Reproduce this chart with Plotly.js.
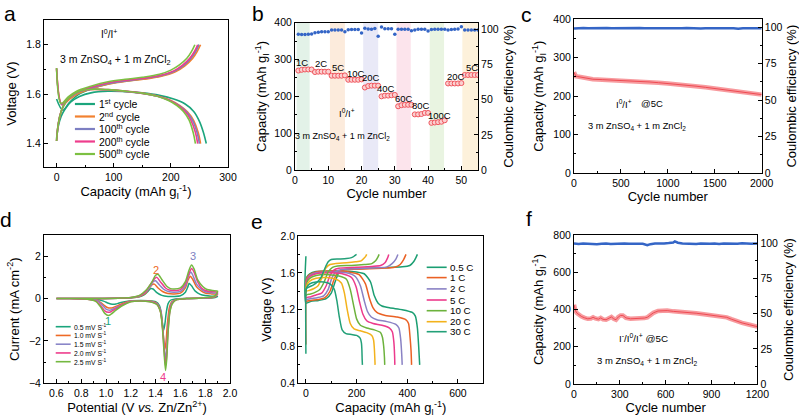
<!DOCTYPE html>
<html><head><meta charset="utf-8">
<script src="https://cdn.plot.ly/plotly-3.0.1.min.js"></script>
<style>html,body{margin:0;padding:0;background:#fff}#plot{width:799px;height:420px}</style>
</head><body><div id="plot"></div>
<script>
// ---------------- DATA ----------------
// Panel a: GCD curves of selected cycles (capacity mAh g-1, voltage V)
const aCycles = ['1<sup>st</sup> cycle','2<sup>nd</sup> cycle','100<sup>th</sup> cycle','200<sup>th</sup> cycle','500<sup>th</sup> cycle'];
const aChgX = [
  [0,11,22,38,62,92,122,152,182,206,222,235,243,249],
  [0,10,22,38,62,92,122,152,182,208,224,238,246,252],
  [0,9,20,35,60,90,120,150,180,206,222,235,243,249],
  [0,9,20,35,60,90,120,150,180,205,220,233,241,247],
  [0,8,20,35,60,90,120,150,180,200,215,228,236,242]];
const aChgY = [
  [1.58,1.535,1.565,1.598,1.622,1.642,1.653,1.662,1.673,1.692,1.714,1.745,1.772,1.80],
  [1.704,1.556,1.578,1.602,1.623,1.641,1.652,1.660,1.671,1.690,1.713,1.744,1.772,1.80],
  [1.704,1.558,1.580,1.604,1.625,1.643,1.653,1.662,1.673,1.692,1.715,1.745,1.772,1.80],
  [1.705,1.560,1.583,1.607,1.628,1.646,1.656,1.664,1.675,1.694,1.716,1.745,1.772,1.80],
  [1.706,1.562,1.588,1.612,1.632,1.650,1.660,1.668,1.680,1.697,1.718,1.745,1.772,1.80]];
const aDisX = [
  [0,3,8,15,25,40,60,90,120,150,180,205,225,240,250,257,262],
  [0,3,8,15,25,40,60,90,120,150,178,200,216,229,240,248,252],
  [0,3,8,15,25,40,60,90,120,150,177,198,214,227,238,246,250],
  [0,3,8,15,25,40,60,90,120,150,176,197,212,225,235,243,247],
  [0,3,8,15,25,40,60,90,120,150,175,195,210,222,232,239,243]];
const aDisY = [
  [1.42,1.47,1.51,1.54,1.568,1.59,1.605,1.612,1.61,1.605,1.595,1.580,1.560,1.530,1.490,1.445,1.40],
  [1.41,1.48,1.53,1.563,1.590,1.610,1.618,1.617,1.611,1.603,1.591,1.574,1.553,1.528,1.493,1.444,1.40],
  [1.41,1.48,1.53,1.564,1.591,1.611,1.619,1.617,1.611,1.603,1.591,1.574,1.554,1.529,1.494,1.444,1.40],
  [1.41,1.48,1.53,1.565,1.592,1.612,1.620,1.618,1.612,1.604,1.592,1.575,1.555,1.530,1.495,1.445,1.40],
  [1.41,1.48,1.53,1.565,1.592,1.612,1.620,1.618,1.612,1.604,1.592,1.575,1.555,1.530,1.495,1.445,1.40]];

// Panel b: rate performance
const bCycle = Array.from({length:55},(_,i)=>i+1);
const bCap = [270,272,273,273,273, 266,267,267,267,267, 256,256,256,256,257, 245,245,245,245,246,
  224,228,229,229,229, 200,202,202,203,204, 173,176,177,177,177, 151,151,152,155,155,
  128,129,130,131,135, 235,235,235,235,236, 258,258,258,258,258];
const bCE = [96.5,96.3,96.4,96.5,96.6, 97.6,98.0,98.2,98.3,98.3, 99.5,99.5,99.6,99.6,98.2,
  99.7,99.8,99.8,99.8,97.3, 100.8,100.2,100.0,100.5,95.0, 101.7,100.4,100.4,100.4,96.5,
  100.0,100.0,100.0,100.0,99.0, 99.6,100.0,100.0,100.0,98.8, 99.8,100.0,100.0,100.0,100.0,
  99.5,99.8,100.0,100.2,101.8, 99.5,99.5,99.5,99.5,99.5];
const bRates = ['1C','2C','5C','10C','20C','40C','60C','80C','100C','20C','5C'];
const bRateX = [2.1,7.8,12.9,18.3,22.8,27.3,32.7,37.8,43.5,48.3,53.1];
const bRateY = [291,288,277,263,250,220,193,174,147,255,277];
const bBandX0 = [0.5,10.5,20.5,30.5,40.5,50.3];
const bBandX1 = [4.4,15.0,25.0,34.8,44.8,55.0];
const bBandColors = ['rgba(200,230,210,0.5)','rgba(250,215,185,0.5)','rgba(215,215,240,0.55)','rgba(250,205,220,0.55)','rgba(215,235,200,0.55)','rgba(252,232,195,0.6)'];

// Panel c: long cycling at 5C
const cCycle = [0,10,20,40,60,80,100,120,150,200,300,400,500,600,700,800,900,1000,1100,1200,1300,1400,1500,1600,1700,1800,1900,2000];
const cCap = [262,255,252,251,250,250,249,247,245,244,243,242,241,240,238,237,235,233,231,228,226,223,220,217,214,211,207,204];
const cCECycle = [0,50,100,150,200,250,300,350,400,450,500,550,600,650,700,750,800,850,900,950,1000,1050,1100,1150,1200,1250,1300,1350,1400,1450,1500,1550,1600,1650,1700,1750,1800,1850,1900,1950,2000];
const cCE = [99.1,99.4,99.6,99.3,99.5,99.3,99.4,99.6,99.3,99.4,99.2,99.5,99.4,99.3,99.5,99.3,99.4,99.2,99.5,99.3,99.4,99.3,99.1,99.4,99.6,99.3,99.4,99.2,99.4,99.3,99.5,99.3,99.1,99.3,99.4,99.0,99.3,99.4,99.5,99.3,99.4];

// Panel d: CV curves at different scan rates (V, mA cm-2)
const dRates = ['0.5 mV S<sup>-1</sup>','1.0 mV S<sup>-1</sup>','1.5 mV S<sup>-1</sup>','2.0 mV S<sup>-1</sup>','2.5 mV S<sup>-1</sup>'];
const dX = [
  [0.60,0.90,1.10,1.20,1.27,1.31,1.34,1.36,1.38,1.41,1.45,1.50,1.55,1.60,1.64,1.66,1.67,1.69,1.72,1.76,1.80,1.85,1.90, 1.88,1.85,1.75,1.65,1.56,1.52,1.50,1.485,1.475,1.465,1.455,1.445,1.43,1.40,1.35,1.28,1.20,1.14,1.10,1.08,1.05,1.02,0.98,0.93,0.85,0.70,0.60],
  [0.60,0.90,1.10,1.20,1.27,1.32,1.35,1.37,1.39,1.42,1.46,1.50,1.55,1.60,1.64,1.66,1.68,1.70,1.73,1.77,1.80,1.85,1.90, 1.88,1.85,1.75,1.65,1.57,1.53,1.51,1.495,1.485,1.475,1.465,1.45,1.435,1.41,1.35,1.28,1.20,1.14,1.10,1.06,1.04,1.01,0.97,0.93,0.85,0.70,0.60],
  [0.60,0.90,1.10,1.20,1.27,1.32,1.36,1.38,1.40,1.43,1.47,1.51,1.55,1.60,1.64,1.665,1.685,1.70,1.73,1.77,1.80,1.85,1.90, 1.88,1.85,1.75,1.65,1.57,1.53,1.515,1.50,1.49,1.48,1.47,1.455,1.44,1.41,1.35,1.28,1.20,1.14,1.09,1.05,1.03,1.00,0.97,0.93,0.85,0.70,0.60],
  [0.60,0.90,1.10,1.20,1.27,1.32,1.36,1.39,1.41,1.44,1.48,1.51,1.55,1.60,1.64,1.67,1.69,1.71,1.74,1.77,1.80,1.85,1.90, 1.88,1.85,1.75,1.65,1.57,1.535,1.515,1.50,1.49,1.48,1.47,1.455,1.44,1.41,1.35,1.28,1.20,1.13,1.08,1.04,1.02,0.99,0.96,0.92,0.85,0.70,0.60],
  [0.60,0.90,1.10,1.20,1.27,1.32,1.37,1.40,1.42,1.45,1.49,1.52,1.55,1.60,1.64,1.67,1.69,1.71,1.74,1.78,1.81,1.86,1.90, 1.88,1.85,1.75,1.65,1.57,1.535,1.515,1.50,1.49,1.48,1.47,1.455,1.44,1.41,1.35,1.28,1.20,1.13,1.08,1.04,1.02,0.99,0.96,0.92,0.85,0.70,0.60]];
const dY = [
  [0,0,0.01,0.03,0.08,0.18,0.35,0.47,0.45,0.28,0.15,0.10,0.10,0.13,0.30,0.55,0.72,0.60,0.35,0.20,0.14,0.11,0.10, 0.05,0.03,0.01,0,-0.02,-0.08,-0.25,-0.70,-1.20,-1.50,-1.15,-0.65,-0.32,-0.15,-0.10,-0.09,-0.10,-0.16,-0.22,-0.26,-0.27,-0.22,-0.12,-0.04,-0.01,0,0],
  [0,0,0.01,0.04,0.10,0.25,0.50,0.65,0.68,0.50,0.32,0.24,0.22,0.26,0.50,0.85,1.05,0.90,0.55,0.35,0.26,0.22,0.20, 0.08,0.04,0.01,0,-0.04,-0.15,-0.45,-1.20,-2.00,-2.40,-1.90,-1.00,-0.50,-0.22,-0.12,-0.10,-0.12,-0.22,-0.32,-0.42,-0.45,-0.42,-0.25,-0.08,-0.02,0,0],
  [0,0,0.01,0.04,0.12,0.30,0.60,0.80,0.84,0.65,0.42,0.32,0.30,0.34,0.60,1.05,1.25,1.10,0.68,0.43,0.32,0.27,0.25, 0.10,0.05,0.01,0,-0.05,-0.20,-0.55,-1.40,-2.40,-2.90,-2.30,-1.20,-0.55,-0.24,-0.13,-0.10,-0.13,-0.26,-0.40,-0.52,-0.55,-0.50,-0.30,-0.10,-0.02,0,0],
  [0,0,0.01,0.05,0.14,0.34,0.68,0.92,1.00,0.78,0.50,0.40,0.38,0.42,0.70,1.20,1.42,1.25,0.78,0.50,0.38,0.32,0.30, 0.12,0.06,0.02,0,-0.05,-0.22,-0.60,-1.55,-2.65,-3.20,-2.50,-1.30,-0.60,-0.26,-0.14,-0.11,-0.14,-0.30,-0.48,-0.62,-0.65,-0.58,-0.35,-0.12,-0.03,0,0],
  [0,0,0.02,0.05,0.15,0.38,0.78,1.10,1.15,0.90,0.58,0.47,0.45,0.50,0.80,1.35,1.58,1.40,0.88,0.57,0.44,0.38,0.35, 0.14,0.07,0.02,0,-0.05,-0.24,-0.65,-1.65,-2.85,-3.40,-2.70,-1.40,-0.65,-0.28,-0.15,-0.12,-0.15,-0.34,-0.55,-0.74,-0.80,-0.70,-0.42,-0.14,-0.03,0,0]];
const dPeakLabels = ['1','2','3','4'];
const dPeakX = [1.015,1.405,1.70,1.46];
const dPeakY = [-1.05,1.37,2.0,-3.69];

// Panel e: GCD curves at different C-rates
const eRates = ['0.5 C','1 C','2 C','5 C','10 C','20 C','30 C'];
const eChgX = [
  [0,0,20,50,80,100,115,130,150,200,300,380,410,425,435,440],
  [0,2,20,50,75,95,110,125,145,200,300,350,372,385,395],
  [0,2,20,45,70,88,102,118,140,200,280,320,340,355,363],
  [0,2,20,40,62,80,95,110,130,200,260,295,312,322,327],
  [0,2,18,38,55,72,88,105,125,180,230,260,275,284,289],
  [0,2,15,32,48,62,78,95,115,160,195,218,230,237,240],
  [0,2,15,30,45,60,75,88,100,130,160,180,190,197,200]];
const eChgY = [
  [1.78,1.27,1.29,1.30,1.32,1.38,1.50,1.60,1.635,1.645,1.655,1.665,1.68,1.72,1.77,1.80],
  [1.28,1.29,1.30,1.31,1.33,1.40,1.52,1.60,1.63,1.64,1.65,1.66,1.69,1.74,1.80],
  [1.30,1.31,1.32,1.33,1.35,1.42,1.54,1.61,1.635,1.645,1.655,1.665,1.70,1.75,1.80],
  [1.32,1.33,1.34,1.36,1.38,1.46,1.57,1.63,1.65,1.66,1.67,1.68,1.71,1.76,1.80],
  [1.35,1.36,1.37,1.39,1.42,1.50,1.61,1.66,1.675,1.68,1.69,1.70,1.73,1.77,1.80],
  [1.38,1.40,1.41,1.43,1.46,1.54,1.65,1.69,1.70,1.71,1.72,1.73,1.76,1.785,1.80],
  [1.40,1.43,1.45,1.47,1.50,1.55,1.65,1.72,1.745,1.75,1.755,1.765,1.78,1.795,1.80]];
const eDisX = [
  [0,3,15,40,100,180,230,255,270,285,300,330,380,420,432,440,445,449],
  [0,0,3,15,40,100,170,210,235,250,265,280,310,360,395,405,411,415,417],
  [0,3,15,40,100,160,195,215,230,243,258,280,320,355,367,374,378,380],
  [0,3,15,40,100,150,180,198,212,225,240,265,300,330,341,347,350,351],
  [0,3,15,40,90,130,160,175,188,200,215,240,270,295,302,307,310,311],
  [0,3,15,40,80,115,140,152,163,175,190,215,240,260,267,270,272,273],
  [0,0,3,15,40,70,95,112,122,132,143,158,180,200,214,219,221,222,223]];
const eDisY = [
  [1.50,1.55,1.59,1.615,1.62,1.615,1.59,1.50,1.35,1.27,1.24,1.22,1.20,1.17,1.13,1.00,0.80,0.60],
  [0.82,1.48,1.54,1.58,1.61,1.62,1.61,1.58,1.48,1.33,1.22,1.17,1.14,1.12,1.09,1.05,0.90,0.75,0.60],
  [1.46,1.52,1.57,1.60,1.61,1.60,1.56,1.46,1.30,1.18,1.12,1.09,1.07,1.04,1.00,0.88,0.72,0.60],
  [1.45,1.51,1.56,1.59,1.60,1.585,1.55,1.45,1.28,1.15,1.08,1.05,1.03,1.00,0.96,0.85,0.70,0.60],
  [1.43,1.49,1.54,1.57,1.58,1.565,1.53,1.42,1.25,1.10,1.03,1.00,0.98,0.95,0.90,0.80,0.68,0.60],
  [1.40,1.46,1.51,1.54,1.55,1.535,1.49,1.38,1.20,1.05,0.99,0.97,0.95,0.92,0.87,0.78,0.67,0.60],
  [0.72,1.38,1.44,1.48,1.50,1.50,1.48,1.42,1.30,1.12,0.98,0.94,0.93,0.92,0.89,0.84,0.76,0.66,0.60]];

// Panel f: long cycling, I-/I0/I+ at 5C
const fCycle = [0,5,10,20,35,50,70,90,110,125,140,160,175,190,210,230,245,260,275,290,305,320,340,370,400,430,460,480,500,520,550,580,610,650,700,750,800,850,900,950,1000,1030,1060,1100,1150,1200];
const fCap = [425,405,392,380,370,362,355,350,352,358,352,348,355,347,345,352,360,350,345,360,368,368,355,350,350,352,354,358,370,382,392,395,394,390,388,385,380,375,370,365,358,348,338,328,318,308];
const fCECycle = [0,30,60,90,120,150,180,210,240,270,300,330,360,390,420,450,480,500,530,560,590,620,650,660,680,710,740,770,800,830,860,890,920,950,980,1010,1040,1070,1100,1130,1160,1200];
const fCE = [99.8,99.5,99.9,99.6,99.8,99.4,99.7,99.9,99.5,99.8,99.6,99.9,99.7,99.5,99.8,99.6,98.6,99.4,99.8,99.6,99.9,100.2,100.6,101.4,100.4,99.9,99.6,99.8,99.5,99.9,99.7,99.6,99.9,99.5,99.8,99.7,99.9,99.6,100.1,99.8,99.6,99.8];

// ---------------- STYLE ----------------
const FONT = 'Arial, "Liberation Sans", sans-serif';
const W = 799, H = 420;
const aColors = ['#1ba57c','#f28130','#7d7fc2','#ee3d8c','#7cc042'];
const dColors = ['#1ba57c','#ee6a25','#8a86c8','#ee3d8c','#74b840'];
const eColors = ['#1b9e72','#ea6124','#8a82c4','#ec3a8c','#6cb23c','#f3b21c','#23a078'];
const RED = '#f0555d', BLUE = '#3465c6';
const TICKF = {family: FONT, size: 10.5, color: '#000'};
const TITF = {family: FONT, size: 13, color: '#000'};

function dx(l, r){ return [l/W, r/W]; }
function dy(t, b){ return [1-b/H, 1-t/H]; }
function axis(o){
  return Object.assign({showline:true, linecolor:'#000', linewidth:1, mirror:true,
    ticks:'inside', ticklen:4, tickwidth:1, tickcolor:'#000', showgrid:false, zeroline:false,
    tickfont:TICKF, minor:{ticks:'inside', ticklen:2, tickcolor:'#000'}}, o);
}

const traces = [];
// Panel a
for (let i=0;i<5;i++){
  traces.push({x:aChgX[i], y:aChgY[i], xaxis:'x', yaxis:'y', mode:'lines', line:{color:aColors[i], width:1.6, shape:'spline'}, showlegend:false});
  traces.push({x:aDisX[i], y:aDisY[i], xaxis:'x', yaxis:'y', mode:'lines', line:{color:aColors[i], width:1.6, shape:'spline'}, showlegend:false});
}
// Panel b
traces.push({x:bCycle, y:bCE, xaxis:'x2', yaxis:'y3', mode:'markers', marker:{color:BLUE, size:3.5}, showlegend:false});
traces.push({x:bCycle, y:bCap, xaxis:'x2', yaxis:'y2', mode:'markers', marker:{color:'#fbd0d0', size:5, line:{color:RED, width:1}}, showlegend:false});
// Panel c
traces.push({x:cCECycle, y:cCE, xaxis:'x3', yaxis:'y5', mode:'lines', line:{color:BLUE, width:2.5}, showlegend:false});
traces.push({x:cCycle, y:cCap, xaxis:'x3', yaxis:'y4', mode:'lines', line:{color:'rgba(244,120,125,0.75)', width:4.5}, showlegend:false});
traces.push({x:cCycle, y:cCap, xaxis:'x3', yaxis:'y4', mode:'lines', line:{color:'#ee4b53', width:1}, showlegend:false});
// Panel d
for (let i=0;i<5;i++){
  traces.push({x:dX[i], y:dY[i], xaxis:'x4', yaxis:'y6', mode:'lines', line:{color:dColors[i], width:1.5, shape:'spline', smoothing:0.6}, showlegend:false});
}
// Panel e
for (let i=0;i<7;i++){
  traces.push({x:eChgX[i], y:eChgY[i], xaxis:'x5', yaxis:'y7', mode:'lines', line:{color:eColors[i], width:1.5, shape:'spline', smoothing:0.6}, showlegend:false});
  traces.push({x:eDisX[i], y:eDisY[i], xaxis:'x5', yaxis:'y7', mode:'lines', line:{color:eColors[i], width:1.5, shape:'spline', smoothing:0.6}, showlegend:false});
}
// Panel f
traces.push({x:fCECycle, y:fCE, xaxis:'x6', yaxis:'y9', mode:'lines', line:{color:BLUE, width:2.5}, showlegend:false});
traces.push({x:fCycle, y:fCap, xaxis:'x6', yaxis:'y8', mode:'lines', line:{color:'rgba(244,120,125,0.75)', width:4.5}, showlegend:false});
traces.push({x:fCycle, y:fCap, xaxis:'x6', yaxis:'y8', mode:'lines', line:{color:'#ee4b53', width:1}, showlegend:false});

const capT = 'Capacity (mAh g<sub>I</sub><sup>-1</sup>)';
const ceT = 'Coulombic efficiency (%)';
const layout = {
  width:W, height:H, margin:{l:0,r:0,t:0,b:0}, paper_bgcolor:'#fff', plot_bgcolor:'rgba(0,0,0,0)',
  font:{family:FONT, color:'#000'}, showlegend:false,
  // a
  xaxis: axis({domain:dx(44,228), range:[-22,300], dtick:100, minor:{ticks:'inside',ticklen:2,dtick:50}, anchor:'y', title:{text:capT, font:TITF, standoff:4}}),
  yaxis: axis({domain:dy(20,167), range:[1.305,1.9], dtick:0.2, tickformat:'.1f', minor:{ticks:'inside',ticklen:2,dtick:0.1}, anchor:'x', title:{text:'Voltage (V)', font:TITF, standoff:6}}),
  // b
  xaxis2: axis({domain:dx(295,478), range:[0,55], dtick:10, minor:{ticks:'inside',ticklen:2,dtick:5}, anchor:'y2', title:{text:'Cycle number', font:TITF, standoff:4}}),
  yaxis2: axis({domain:dy(22.7,170), range:[0,400], dtick:100, mirror:false, minor:{ticks:'inside',ticklen:2,dtick:50}, anchor:'x2', title:{text:capT, font:TITF, standoff:4}}),
  yaxis3: axis({domain:dy(22.7,170), range:[0,104.7], tickvals:[0,25,50,75,100], mirror:false, side:'right', overlaying:'y2', anchor:'x2', minor:{ticks:'inside',ticklen:2,tickvals:[12.5,37.5,62.5,87.5]}, title:{text:ceT, font:TITF, standoff:6}}),
  // c
  xaxis3: axis({domain:dx(574,761.7), range:[0,2000], dtick:500, minor:{ticks:'inside',ticklen:2,dtick:250}, anchor:'y4', title:{text:'Cycle number', font:TITF, standoff:4}}),
  yaxis4: axis({domain:dy(19.3,173), range:[0,400], dtick:100, mirror:false, minor:{ticks:'inside',ticklen:2,dtick:50}, anchor:'x3', title:{text:capT, font:TITF, standoff:6}}),
  yaxis5: axis({domain:dy(19.3,173), range:[0,105.5], tickvals:[0,25,50,75,100], mirror:false, side:'right', overlaying:'y4', anchor:'x3', minor:{ticks:'inside',ticklen:2,tickvals:[12.5,37.5,62.5,87.5]}, title:{text:ceT, font:TITF, standoff:6}}),
  // d
  xaxis4: axis({domain:dx(44,230), range:[0.5,2.0], dtick:0.2, tickformat:'.1f', minor:{ticks:'inside',ticklen:2,dtick:0.1}, anchor:'y6', title:{text:'Potential (V <i>vs.</i> Zn/Zn<sup>2+</sup>)', font:TITF, standoff:4}}),
  yaxis6: axis({domain:dy(235,383.3), range:[-4,3], dtick:2, minor:{ticks:'inside',ticklen:2,dtick:1}, anchor:'x4', title:{text:'Current (mA cm<sup>-2</sup>)', font:TITF, standoff:6}}),
  // e
  xaxis5: axis({domain:dx(298.3,483.3), range:[-30,700], dtick:200, minor:{ticks:'inside',ticklen:2,dtick:100}, anchor:'y7', title:{text:capT, font:TITF, standoff:4}}),
  yaxis7: axis({domain:dy(236,383.3), range:[0.4,2.0], dtick:0.4, tickformat:'.1f', minor:{ticks:'inside',ticklen:2,dtick:0.2}, anchor:'x5', title:{text:'Voltage (V)', font:TITF, standoff:6}}),
  // f
  xaxis6: axis({domain:dx(574,757.3), range:[0,1200], dtick:300, minor:{ticks:'inside',ticklen:2,dtick:150}, anchor:'y8', title:{text:'Cycle number', font:TITF, standoff:4}}),
  yaxis8: axis({domain:dy(235,384), range:[0,800], dtick:200, mirror:false, minor:{ticks:'inside',ticklen:2,dtick:100}, anchor:'x6', title:{text:capT, font:TITF, standoff:6}}),
  yaxis9: axis({domain:dy(235,384), range:[0,105.9], tickvals:[0,25,50,75,100], mirror:false, side:'right', overlaying:'y8', anchor:'x6', minor:{ticks:'inside',ticklen:2,tickvals:[12.5,37.5,62.5,87.5]}, title:{text:ceT, font:TITF, standoff:6}}),
  shapes:[], annotations:[]
};

// band shading in b
for (let i=0;i<bBandX0.length;i++){
  layout.shapes.push({type:'rect', xref:'x2', yref:'y2 domain', x0:bBandX0[i], x1:bBandX1[i], y0:0, y1:1, fillcolor:bBandColors[i], line:{width:0}, layer:'below'});
}
const ann = (o)=>layout.annotations.push(Object.assign({showarrow:false, xanchor:'center', yanchor:'middle', font:{family:FONT,size:10.5,color:'#000'}}, o));
const fs = (s)=>({family:FONT, size:s, color:'#000'});
// panel letters
[['a',10,13],['b',258,13],['c',526,15],['d',6,219],['e',257,221],['f',529,218]].forEach(p=>{
  ann({text:p[0], xref:'paper', yref:'paper', x:p[1]/W, y:1-p[2]/H, font:fs(21)});
});
// panel a texts
ann({text:'I<sup>0</sup>/I<sup>+</sup>', xref:'x', yref:'y', x:91, y:1.845, font:fs(10)});
ann({text:'3 m ZnSO<sub>4</sub> + 1 m ZnCl<sub>2</sub>', xref:'x', yref:'y', x:103, y:1.74, font:fs(10.5)});
// legend a
const aLegY = [104,116.5,129,141.5,154];
for (let i=0;i<5;i++){
  const yy = (167-aLegY[i])/147;
  layout.shapes.push({type:'line', xref:'x domain', yref:'y domain', x0:0.168, x1:0.277, y0:yy, y1:yy, line:{color:aColors[i], width:2.2}});
  ann({text:aCycles[i], xref:'x domain', yref:'y domain', x:0.288, y:yy, xanchor:'left', font:fs(10.5)});
}
// panel b texts
ann({text:'I<sup>0</sup>/I<sup>+</sup>', xref:'x2', yref:'y2', x:15.6, y:155, font:fs(9.5)});
ann({text:'3 m ZnSO<sub>4</sub> + 1 m ZnCl<sub>2</sub>', xref:'x2', yref:'y2', x:14.3, y:90, font:fs(9)});
for (let i=0;i<bRates.length;i++) ann({text:bRates[i], xref:'x2', yref:'y2', x:bRateX[i], y:bRateY[i], font:fs(9.5)});
// panel c texts
ann({text:'I<sup>0</sup>/I<sup>+</sup>', xref:'x3', yref:'y4', x:533, y:180, font:fs(9.5)});
ann({text:'@5C', xref:'x3', yref:'y4', x:831, y:180, font:fs(9.5)});
ann({text:'3 m ZnSO<sub>4</sub> + 1 m ZnCl<sub>2</sub>', xref:'x3', yref:'y4', x:666, y:120, font:fs(9.3)});
// panel d peaks
for (let i=0;i<4;i++){
  const col = [dColors[0], dColors[1], '#7d7fc2', dColors[3]][i];
  ann({text:dPeakLabels[i], xref:'x4', yref:'y6', x:dPeakX[i], y:dPeakY[i], font:{family:FONT,size:11,color:col}});
}
// legend d
for (let i=0;i<5;i++){
  const yy = (383.3-(326.7+8.75*i))/148.3;
  layout.shapes.push({type:'line', xref:'x4 domain', yref:'y6 domain', x0:0.063, x1:0.1435, y0:yy, y1:yy, line:{color:dColors[i], width:1.6}});
  ann({text:dRates[i], xref:'x4 domain', yref:'y6 domain', x:0.151, y:yy, xanchor:'left', font:fs(6.8)});
}
// legend e
const eLegY = [267.3,277.6,288.9,300,310.7,321.7,331.7];
for (let i=0;i<7;i++){
  const yy = (383.3-eLegY[i])/147.3;
  layout.shapes.push({type:'line', xref:'x5 domain', yref:'y7 domain', x0:0.694, x1:0.802, y0:yy, y1:yy, line:{color:eColors[i], width:1.6}});
  ann({text:eRates[i], xref:'x5 domain', yref:'y7 domain', x:0.81, y:yy, xanchor:'left', font:fs(9.8)});
}
// panel f texts
ann({text:'I<sup>-</sup>/I<sup>0</sup>/I<sup>+</sup> @5C', xref:'x6', yref:'y8', x:452, y:249, font:fs(9.8)});
ann({text:'3 m ZnSO<sub>4</sub> + 1 m ZnCl<sub>2</sub>', xref:'x6', yref:'y8', x:476, y:125, font:fs(9.5)});

Plotly.newPlot('plot', traces, layout, {staticPlot:true, displayModeBar:false});
</script></body></html>
